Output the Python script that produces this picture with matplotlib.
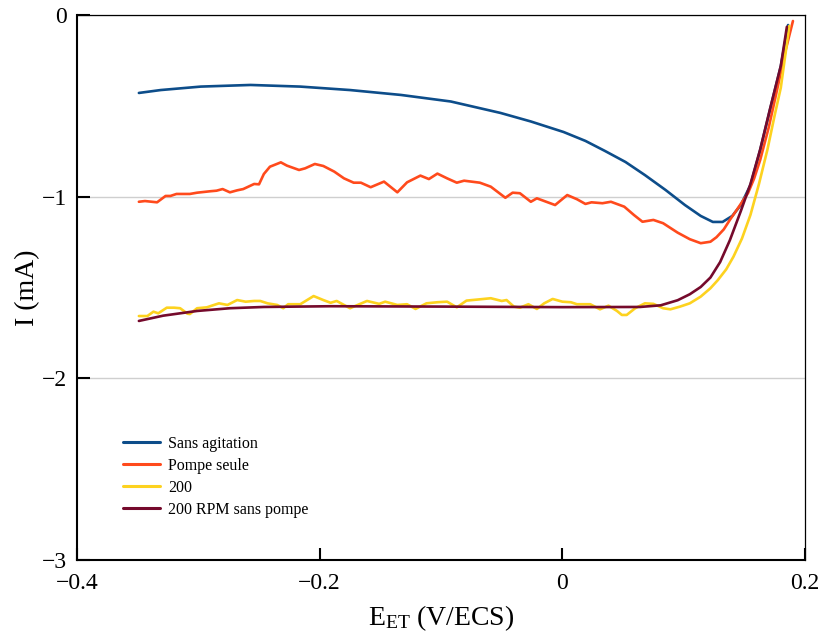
import matplotlib
matplotlib.use("Agg")
import matplotlib.pyplot as plt
from matplotlib.ticker import FixedLocator, FixedFormatter

plt.rcParams['font.family'] = ['Liberation Serif', 'DejaVu Serif']
plt.rcParams['mathtext.default'] = 'regular'
plt.rcParams['axes.unicode_minus'] = True

# ---- data ----
blue_x = [-0.349, -0.331, -0.298, -0.257, -0.216, -0.175, -0.133, -0.092, -0.051, -0.026,
          0.001, 0.019, 0.035, 0.052, 0.068, 0.085, 0.101, 0.114, 0.124, 0.132,
          0.140, 0.147, 0.155, 0.163, 0.171, 0.180, 0.186]
blue_y = [-0.429, -0.413, -0.394, -0.385, -0.394, -0.413, -0.440, -0.476, -0.539, -0.586,
          -0.644, -0.693, -0.748, -0.809, -0.881, -0.963, -1.046, -1.106, -1.139, -1.139,
          -1.106, -1.046, -0.936, -0.743, -0.523, -0.281, -0.055]

red_x = [-0.349, -0.344, -0.334, -0.327, -0.323, -0.318, -0.307, -0.301, -0.290, -0.285,
         -0.280, -0.274, -0.268, -0.263, -0.254, -0.250, -0.246, -0.241, -0.232, -0.227,
         -0.217, -0.212, -0.204, -0.197, -0.188, -0.180, -0.172, -0.166, -0.158, -0.147,
         -0.136, -0.128, -0.117, -0.110, -0.103, -0.095, -0.087, -0.081, -0.068, -0.059,
         -0.047, -0.041, -0.035, -0.026, -0.021, -0.006, 0.004, 0.012, 0.019, 0.024,
         0.033, 0.040, 0.051, 0.059, 0.066, 0.075, 0.083, 0.095, 0.105, 0.114,
         0.122, 0.127, 0.133, 0.138, 0.145, 0.153, 0.158, 0.163, 0.170, 0.176,
         0.184, 0.190]
red_y = [-1.028, -1.024, -1.031, -0.996, -0.996, -0.985, -0.985, -0.978, -0.970, -0.967,
         -0.958, -0.976, -0.965, -0.958, -0.930, -0.932, -0.875, -0.835, -0.811, -0.829,
         -0.853, -0.844, -0.820, -0.831, -0.862, -0.899, -0.923, -0.923, -0.948, -0.917,
         -0.976, -0.921, -0.884, -0.903, -0.873, -0.899, -0.923, -0.912, -0.923, -0.945,
         -1.006, -0.978, -0.981, -1.028, -1.009, -1.046, -0.991, -1.014, -1.040, -1.031,
         -1.036, -1.028, -1.055, -1.101, -1.138, -1.128, -1.146, -1.198, -1.234, -1.256,
         -1.248, -1.223, -1.180, -1.128, -1.060, -0.980, -0.900, -0.798, -0.620, -0.440,
         -0.193, -0.033]

yel_x = [-0.349, -0.342, -0.337, -0.333, -0.326, -0.320, -0.315, -0.309, -0.307, -0.301,
         -0.293, -0.283, -0.276, -0.268, -0.261, -0.254, -0.249, -0.243, -0.235, -0.230,
         -0.226, -0.216, -0.205, -0.197, -0.191, -0.186, -0.175, -0.161, -0.151, -0.146,
         -0.136, -0.128, -0.121, -0.112, -0.103, -0.095, -0.087, -0.079, -0.068, -0.059,
         -0.050, -0.046, -0.040, -0.035, -0.028, -0.021, -0.015, -0.008, 0.000, 0.007,
         0.012, 0.023, 0.031, 0.038, 0.045, 0.049, 0.053, 0.060, 0.068, 0.075,
         0.083, 0.089, 0.097, 0.105, 0.114, 0.122, 0.128, 0.135, 0.141, 0.148,
         0.155, 0.162, 0.169, 0.175, 0.180, 0.187]
yel_y = [-1.657, -1.657, -1.633, -1.642, -1.611, -1.611, -1.614, -1.644, -1.646, -1.614,
         -1.609, -1.587, -1.596, -1.569, -1.578, -1.574, -1.574, -1.587, -1.596, -1.614,
         -1.592, -1.592, -1.547, -1.569, -1.584, -1.574, -1.614, -1.574, -1.590, -1.578,
         -1.596, -1.592, -1.618, -1.587, -1.581, -1.578, -1.609, -1.572, -1.565, -1.559,
         -1.574, -1.569, -1.605, -1.611, -1.592, -1.618, -1.587, -1.563, -1.578, -1.581,
         -1.592, -1.592, -1.620, -1.600, -1.629, -1.651, -1.651, -1.614, -1.587, -1.590,
         -1.614, -1.620, -1.605, -1.587, -1.550, -1.504, -1.460, -1.400, -1.330, -1.230,
         -1.100, -0.930, -0.740, -0.550, -0.400, -0.060]

mar_x = [-0.349, -0.329, -0.301, -0.274, -0.246, -0.191, -0.1, 0.0, 0.064, 0.081,
         0.095, 0.105, 0.114, 0.122, 0.130, 0.138, 0.147, 0.155, 0.163, 0.171,
         0.180, 0.185]
mar_y = [-1.684, -1.655, -1.629, -1.614, -1.607, -1.603, -1.605, -1.608, -1.607, -1.598,
         -1.570, -1.537, -1.497, -1.445, -1.360, -1.240, -1.080, -0.930, -0.740, -0.520,
         -0.280, -0.065]

labels = ['Sans agitation', 'Pompe seule', '200', '200 RPM sans pompe']
colors = ['#0d4d8a', '#ff4a1c', '#fdd21f', '#750a2c']

x_ticks = [-0.4, -0.2, 0.0, 0.2]
x_ticklabels = ['\u22120.4', '\u22120.2', '0', '0.2']
y_ticks = [0, -1, -2, -3]
y_ticklabels = ['0', '\u22121', '\u22122', '\u22123']

fig = plt.figure(figsize=(8.19, 6.39), dpi=100)
ax = fig.add_axes([0.094, 0.1236, 0.889, 0.8529])

series = [(blue_x, blue_y), (red_x, red_y), (yel_x, yel_y), (mar_x, mar_y)]
for (sx, sy), lab, col in zip(series, labels, colors):
    ax.plot(sx, sy, color=col, lw=1.9, label=lab, solid_joinstyle='round',
            solid_capstyle='round')

ax.set_xlim(-0.4, 0.2)
ax.set_ylim(-3, 0)
ax.xaxis.set_major_locator(FixedLocator(x_ticks))
ax.xaxis.set_major_formatter(FixedFormatter(x_ticklabels))
ax.yaxis.set_major_locator(FixedLocator(y_ticks))
ax.yaxis.set_major_formatter(FixedFormatter(y_ticklabels))
ax.tick_params(direction='in', length=9, width=1.5, labelsize=17)
ax.tick_params(axis='x', pad=9)
ax.tick_params(axis='y', pad=7)

ax.yaxis.grid(True, color='#cfcfcf', lw=1.0)
ax.set_axisbelow(True)

for s in ['left', 'bottom']:
    ax.spines[s].set_linewidth(1.5)
for s in ['top', 'right']:
    ax.spines[s].set_linewidth(0.9)

ax.set_xlabel('E$_{\\mathregular{ET}}$ (V/ECS)', fontsize=20, labelpad=7)
ax.set_ylabel('I (mA)', fontsize=20, labelpad=1)

leg = ax.legend(loc='upper left', bbox_to_anchor=(0.063, 0.228), frameon=False,
                fontsize=11.5, handlelength=2.3, handletextpad=0.55,
                labelspacing=0.38, borderpad=0, borderaxespad=0)
for h in leg.get_lines():
    h.set_linewidth(2.2)

fig.savefig('out.png', dpi=100)
